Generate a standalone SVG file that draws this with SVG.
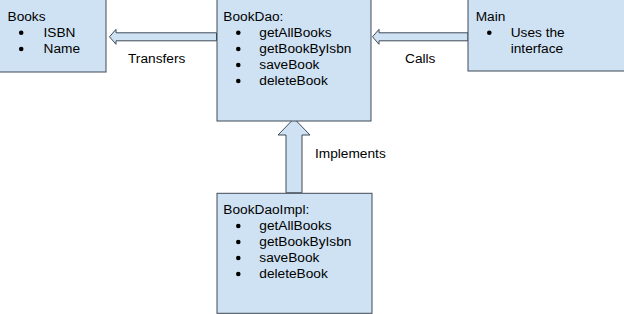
<svg xmlns="http://www.w3.org/2000/svg" width="624" height="314" viewBox="0 0 624 314">
<style>
.box{fill:#cfe2f3;stroke:#3f4a57;stroke-width:1}
.arr{fill:#cfe2f3;stroke:#3f4a57;stroke-width:1;stroke-linejoin:miter}
text{font-family:"Liberation Sans",Arial,sans-serif;font-size:13.7px;fill:#000}
.b{fill:#000}
</style>
<rect x="0" y="0" width="624" height="314" fill="#fff"/>
<g id="connectors">
<path class="arr" d="M109.5,36.8 L116,29.3 L116,32.8 L216.5,32.8 L216.5,40.8 L116,40.8 L116,44.3 Z"/>
<path class="arr" d="M372.5,36.8 L379,29.3 L379,32.8 L468,32.8 L468,40.8 L379,40.8 L379,44.3 Z"/>
<path class="arr" d="M294,118.5 L310,135 L302,135 L302,192.8 L286,192.8 L286,135 L278,135 Z"/>
<text x="128" y="62.5">Transfers</text>
<text x="405" y="62.5">Calls</text>
<text x="315" y="158">Implements</text>
</g>
<g id="books">
<rect class="box" x="-1" y="-1" width="107" height="73"/>
<text x="7.5" y="20.5">Books</text>
<circle class="b" cx="21.2" cy="32.8" r="2.3"/>
<text x="43.5" y="36.7">ISBN</text>
<circle class="b" cx="21.2" cy="49" r="2.3"/>
<text x="43.5" y="53">Name</text>
</g>
<g id="bookdao">
<rect class="box" x="217" y="-1" width="154" height="122"/>
<text x="223.3" y="20.7">BookDao:</text>
<circle class="b" cx="238.3" cy="32.8" r="2.3"/>
<text x="259.3" y="36.7">getAllBooks</text>
<circle class="b" cx="238.3" cy="49" r="2.3"/>
<text x="259.3" y="52.9">getBookByIsbn</text>
<circle class="b" cx="238.3" cy="65" r="2.3"/>
<text x="259.3" y="68.9">saveBook</text>
<circle class="b" cx="238.3" cy="81" r="2.3"/>
<text x="259.3" y="84.9">deleteBook</text>
</g>
<g id="main">
<rect class="box" x="468" y="-1" width="157" height="72"/>
<text x="475.7" y="20.7">Main</text>
<circle class="b" cx="489.3" cy="32.8" r="2.3"/>
<text x="510.7" y="36.7">Uses the</text>
<text x="510.7" y="53.2">interface</text>
</g>
<g id="bookdaoimpl">
<rect class="box" x="217" y="193.3" width="155" height="120"/>
<text x="223.3" y="213.5">BookDaoImpl:</text>
<circle class="b" cx="238.3" cy="226" r="2.3"/>
<text x="259.3" y="229.9">getAllBooks</text>
<circle class="b" cx="238.3" cy="242" r="2.3"/>
<text x="259.3" y="245.9">getBookByIsbn</text>
<circle class="b" cx="238.3" cy="258" r="2.3"/>
<text x="259.3" y="261.9">saveBook</text>
<circle class="b" cx="238.3" cy="274" r="2.3"/>
<text x="259.3" y="277.9">deleteBook</text>
</g>
</svg>
